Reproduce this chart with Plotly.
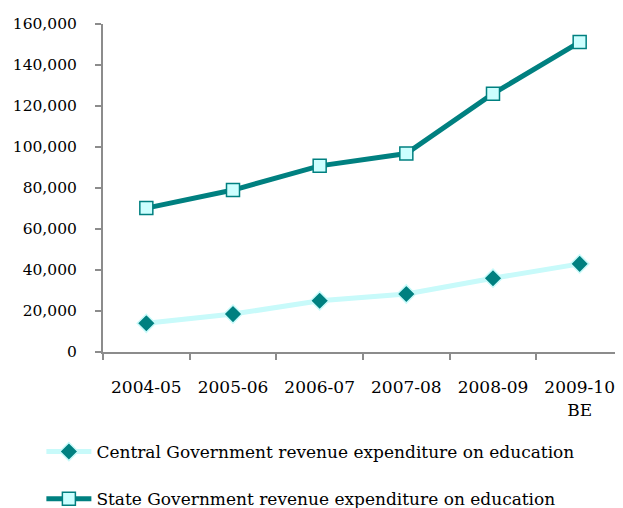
import plotly.graph_objects as go

categories = ["2004-05", "2005-06", "2006-07", "2007-08", "2008-09", "2009-10<br>BE"]
central = [14000, 18500, 25000, 28300, 36000, 43000]
state = [70200, 79000, 90800, 96800, 126000, 151200]
y_ticks = [0, 20000, 40000, 60000, 80000, 100000, 120000, 140000, 160000]
y_tick_text = ["0", "20,000", "40,000", "60,000", "80,000", "100,000", "120,000", "140,000", "160,000"]

FONT = "DejaVu Serif"
TEAL = "#008080"
LIGHT = "#C8FAFA"

fig = go.Figure()
fig.add_trace(go.Scatter(
    x=categories, y=central, mode="lines+markers",
    name="Central Government revenue expenditure on education",
    line=dict(color=LIGHT, width=5),
    marker=dict(symbol="diamond", size=14, color=TEAL, line=dict(color=LIGHT, width=1.5)),
    legendgroup="a",
))
fig.add_trace(go.Scatter(
    x=categories, y=state, mode="lines+markers",
    name="State Government revenue expenditure on education",
    line=dict(color=TEAL, width=5),
    marker=dict(symbol="square", size=13, color="#CCFFFF", line=dict(color=TEAL, width=1.5)),
    legendgroup="b",
))

fig.update_layout(
    width=615, height=500,
    margin=dict(l=95, r=0, t=16, b=156, autoexpand=False),
    paper_bgcolor="white", plot_bgcolor="white",
    font=dict(family=FONT, size=17, color="black"),
    showlegend=True,
    legend=dict(
        x=-0.1185, xanchor="left", y=-0.25, yanchor="top",
        font=dict(family=FONT, size=17, color="black"),
        tracegroupgap=22, itemwidth=45,
        bgcolor="rgba(0,0,0,0)",
    ),
)
fig.update_xaxes(
    type="category", range=[-0.5, 5.5], automargin=False,
    showline=True, linecolor="#8c8c8c", linewidth=2,
    ticks="outside", tickson="boundaries", ticklen=6, tickcolor="#8c8c8c", tickwidth=2,
    showgrid=False, zeroline=False,
    ticklabelstandoff=19,
)
fig.update_yaxes(
    range=[0, 160000], tickvals=y_ticks, ticktext=y_tick_text, automargin=False,
    tickfont=dict(family=FONT, size=15.5, color="black"),
    showline=True, linecolor="#8c8c8c", linewidth=2,
    ticks="outside", ticklen=6, tickcolor="#8c8c8c", tickwidth=2,
    showgrid=False, zeroline=False,
    ticklabelstandoff=15,
)

fig.write_html("out.html")
